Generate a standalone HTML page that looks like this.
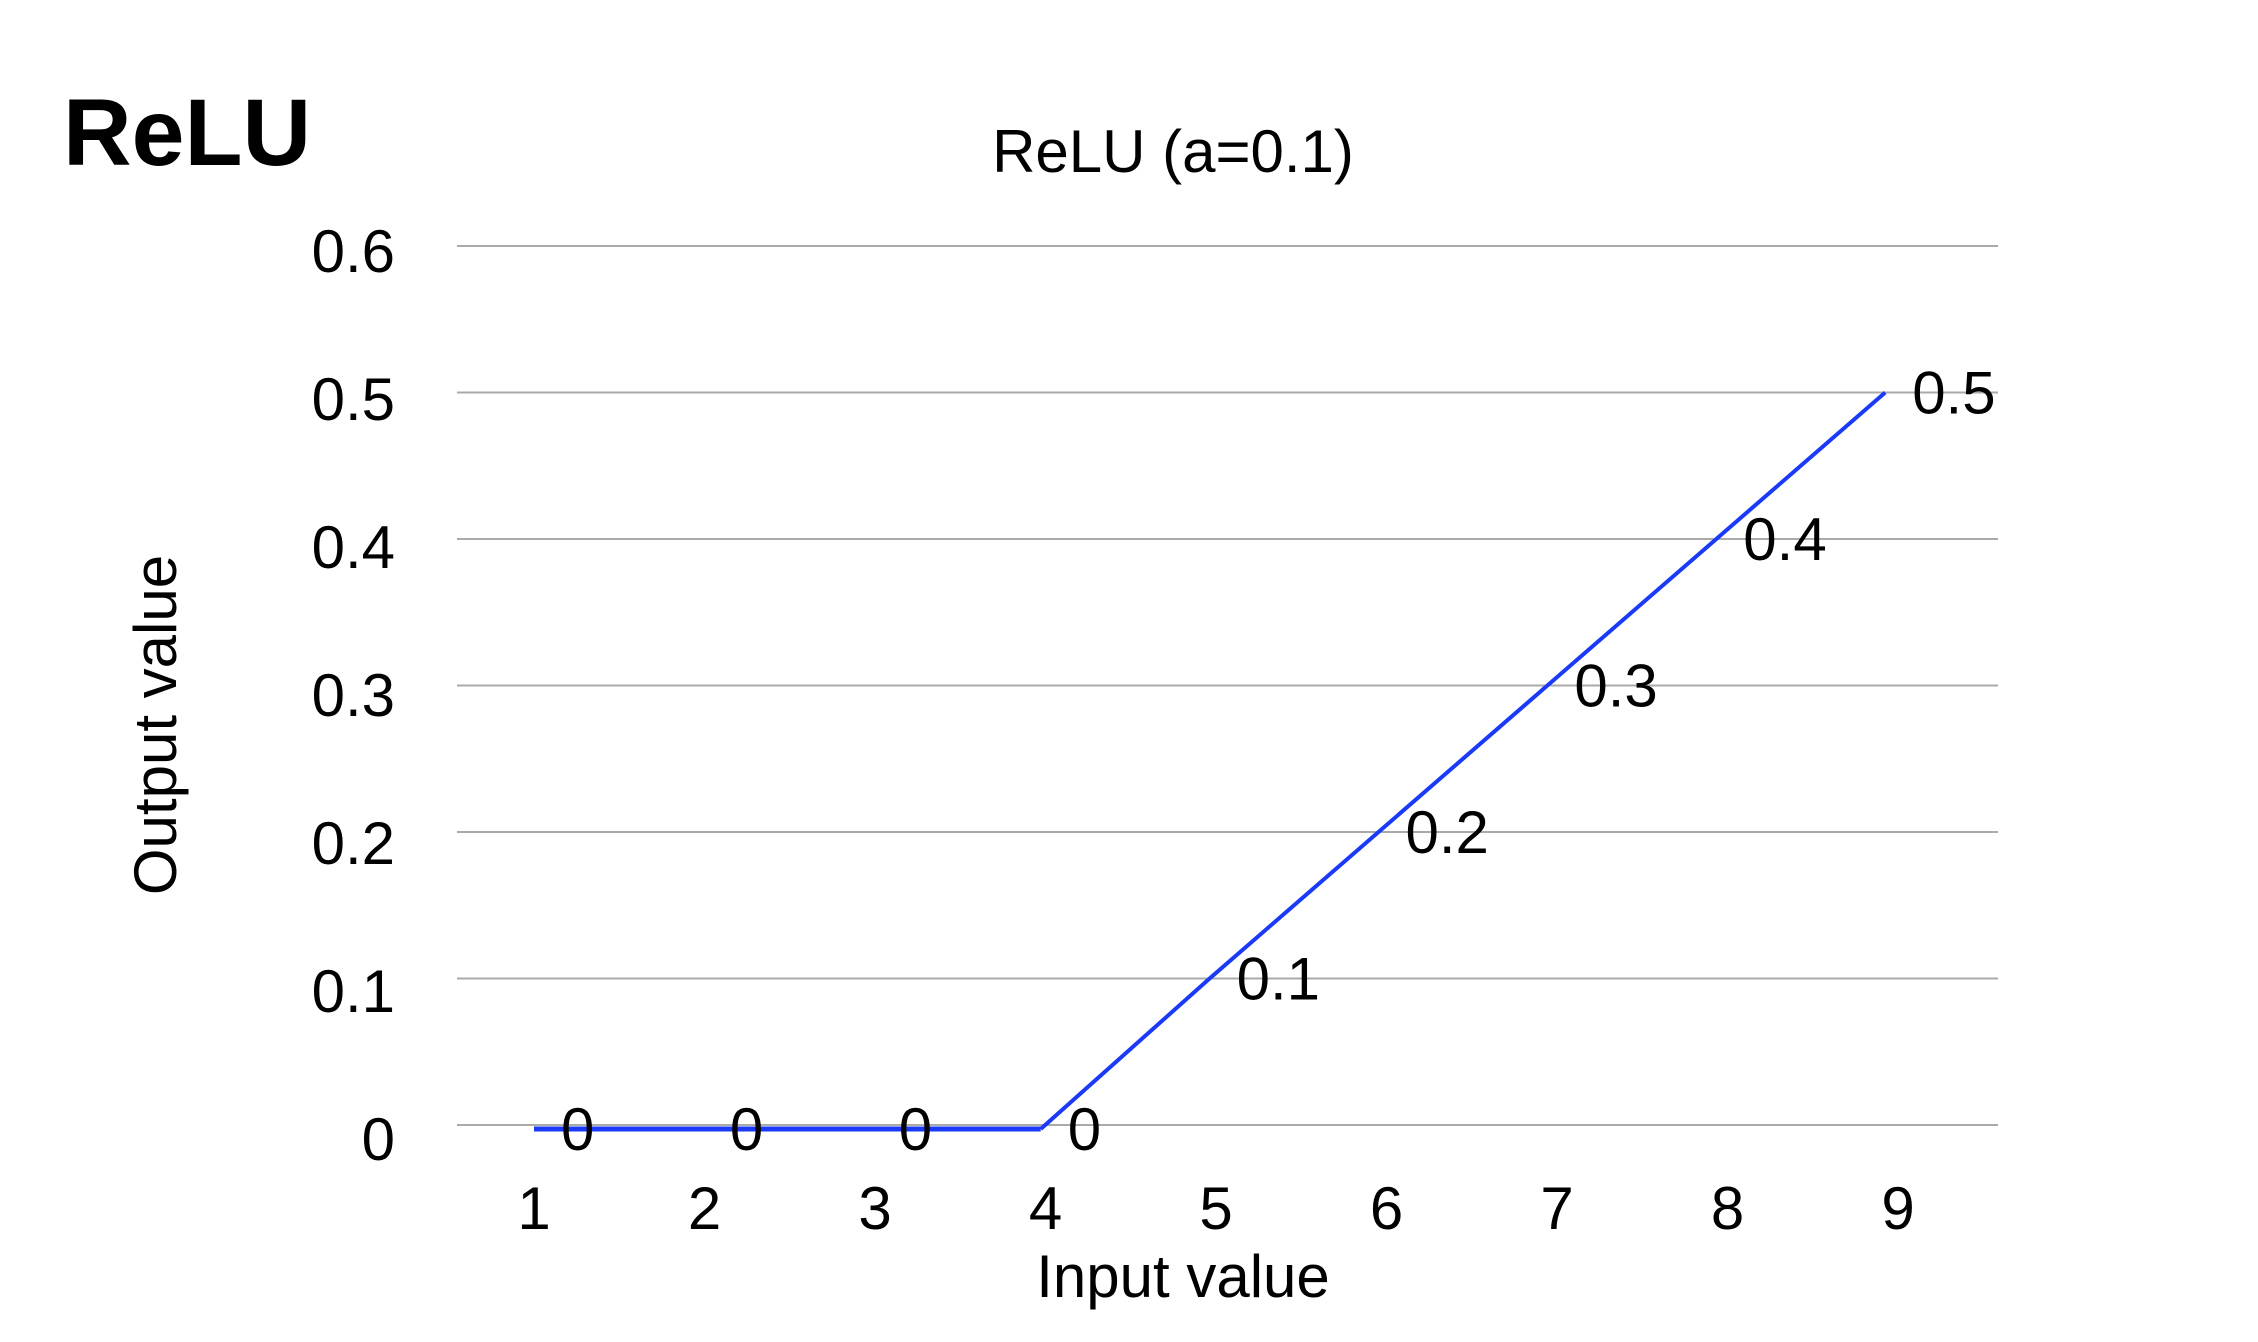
<!DOCTYPE html>
<html><head><meta charset="utf-8"><style>
html,body{margin:0;padding:0;background:#fff;}
svg{display:block;font-family:"Liberation Sans",Arial,sans-serif;}
</style></head><body>
<svg id="chart" width="2258" height="1342" viewBox="0 0 2258 1342">
  <text x="63" y="165" font-size="95" font-weight="bold" fill="#000">ReLU</text>
  <text x="1173" y="172" font-size="60" text-anchor="middle" fill="#000">ReLU (a=0.1)</text>
  <text transform="translate(176,725) rotate(-90)" font-size="60" text-anchor="middle" fill="#000">Output value</text>
  <text x="1183" y="1297" font-size="60" text-anchor="middle" fill="#000">Input value</text>
  <g id="grid"></g><g id="yticks"></g><g id="xticks"></g><g id="series"></g><g id="labels"></g>
</svg>
<script>
const categories = [1, 2, 3, 4, 5, 6, 7, 8, 9];
const values = [0, 0, 0, 0, 0.1, 0.2, 0.3, 0.4, 0.5];
const valueLabels = ["0", "0", "0", "0", "0.1", "0.2", "0.3", "0.4", "0.5"];
const yTicks = [0, 0.1, 0.2, 0.3, 0.4, 0.5, 0.6];
const yTickLabels = ["0", "0.1", "0.2", "0.3", "0.4", "0.5", "0.6"];

const NS = "http://www.w3.org/2000/svg";
const xMinPx = 534, xMaxPx = 1898, yZeroPx = 1125, yTopPx = 246;
function xScale(c){ return xMinPx + (c - categories[0]) * (xMaxPx - xMinPx) / (categories[categories.length-1] - categories[0]); }
function yScale(v){ return yZeroPx - v * (yZeroPx - yTopPx) / 0.6; }
function mk(tag, attrs, parent){ const e = document.createElementNS(NS, tag); for (const k in attrs) e.setAttribute(k, attrs[k]); parent.appendChild(e); return e; }

const grid = document.getElementById('grid'), yt = document.getElementById('yticks'), xt = document.getElementById('xticks');
yTicks.forEach((t, i) => {
  const y = yScale(t);
  const l = mk('line', {x1: 457, x2: 1998, y1: y, y2: y, stroke: '#aaaaaa', 'stroke-width': 2}, grid);
  
  
  const tx = mk('text', {x: 395, y: y + 26 + (0.6 - t) * 15, 'font-size': 60, 'text-anchor': 'end', fill: '#000'}, yt);
  tx.textContent = yTickLabels[i];
  
  
});
categories.forEach(c => {
  const tx = mk('text', {x: xScale(c), y: 1229, 'font-size': 60, 'text-anchor': 'middle', fill: '#000'}, xt);
  tx.textContent = String(c);
  
  
});
const series = document.getElementById('series'), labels = document.getElementById('labels');
function px(c){ return xScale(c) - (c - categories[0]) * 1.6; }
function py(v){ return yScale(v) + (v === 0 ? 4 : 0); }
const flatPts = [], slopePts = [];
categories.forEach((c, i) => {
  if (values[i] === 0) flatPts.push(px(c) + ',' + py(values[i]));
  if (values[i] !== 0 || (i + 1 < values.length && values[i+1] !== 0)) slopePts.push(px(c) + ',' + py(values[i]));
});
const flat = mk('polyline', {points: flatPts.join(' '), fill: 'none', stroke: '#1b3af7', 'stroke-width': 5}, series);


const slope = mk('polyline', {points: slopePts.join(' '), fill: 'none', stroke: '#1b3af7', 'stroke-width': 4}, series);


categories.forEach((c, i) => {
  const tx = mk('text', {x: px(c) + 27, y: py(values[i]) + 21, 'font-size': 60, fill: '#000'}, labels);
  tx.textContent = valueLabels[i];
  
  
});
</script>
</body></html>
